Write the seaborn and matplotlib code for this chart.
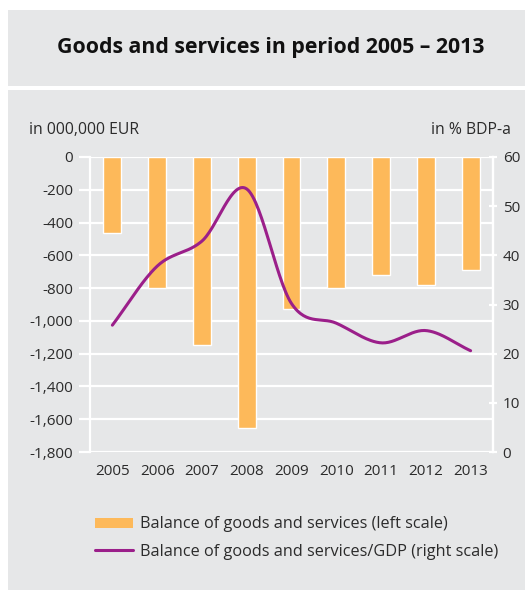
import numpy as np
import pandas as pd
import matplotlib
matplotlib.use("Agg")
import matplotlib.pyplot as plt
from matplotlib.patches import Rectangle, Patch
from matplotlib.lines import Line2D
import seaborn as sns

# Data
years = ["2005", "2006", "2007", "2008", "2009", "2010", "2011", "2012", "2013"]
balance = [-465, -800, -1150, -1655, -925, -800, -718, -780, -688]       # million EUR
balance_gdp = [25.8, 37.8, 42.9, 53.5, 30.2, 26.2, 22.2, 24.7, 20.6]     # % of GDP
left_ticks = [0, -200, -400, -600, -800, -1000, -1200, -1400, -1600, -1800]
right_ticks = [0, 10, 20, 30, 40, 50, 60]

BG = "#E6E7E8"
BAR = "#FDB95A"
LINE = "#9B1F8A"
TXT = "#2B2B2B"

sns.set_style("white")
plt.rcParams["font.family"] = ["Open Sans", "DejaVu Sans"]

W, H = 525, 590
fig = plt.figure(figsize=(W / 100, H / 100), dpi=100)
fig.patch.set_facecolor("white")


def fx(px):
    return px / W


def fy(py):
    return 1 - py / H


# Grey panels: title band and chart band
fig.add_artist(Rectangle((fx(8), fy(86)), fx(W - 8), 76 / H, transform=fig.transFigure,
                         facecolor=BG, edgecolor="none", zorder=0))
fig.add_artist(Rectangle((fx(8), 0), fx(W - 8), fy(90), transform=fig.transFigure,
                         facecolor=BG, edgecolor="none", zorder=0))

fig.text(fx(271), fy(48), "Goods and services in period 2005 – 2013", ha="center", va="center",
         fontsize=15.3, fontweight="bold", color="#111111")

ax = fig.add_axes([fx(90), fy(452), fx(493 - 90), (452 - 157) / H])
ax.set_facecolor(BG)

df = pd.DataFrame({"year": years, "balance": balance, "gdp": balance_gdp})

# Horizontal white grid
ax.set_ylim(-1800, 0)
ax.set_yticks(left_ticks)
ax.set_yticklabels([f"{v:,}" for v in left_ticks])
ax.grid(axis="y", color="white", linewidth=1.6, zorder=0)
ax.set_axisbelow(True)

sns.barplot(data=df, x="year", y="balance", color=BAR, width=0.4, saturation=1, ax=ax, zorder=2)
ax.set_xlim(-0.5, len(years) - 0.5)
ax.set_xlabel("")
ax.set_ylabel("")

for side in ["top", "bottom"]:
    ax.spines[side].set_visible(False)
for side in ["left", "right"]:
    ax.spines[side].set_color("white")
    ax.spines[side].set_linewidth(1.6)

ax.tick_params(axis="y", which="both", left=True, length=8, width=1.6, color="white",
               labelsize=11, labelcolor=TXT, pad=4)
ax.tick_params(axis="x", bottom=False, labelsize=11, labelcolor=TXT, pad=5)

# Right axis: share of GDP
ax2 = ax.twinx()
ax2.set_ylim(0, 60)
ax2.set_yticks(right_ticks)
for side in ["top", "bottom", "left"]:
    ax2.spines[side].set_visible(False)
ax2.spines["right"].set_color("white")
ax2.spines["right"].set_linewidth(1.6)
ax2.tick_params(axis="y", right=True, length=6, width=1.6, color="white", direction="inout",
                labelsize=11, labelcolor=TXT, pad=4)
ax2.grid(False)


def catmull_rom(xs, ys, n=30):
    xs = np.asarray(xs, float)
    ys = np.asarray(ys, float)
    px = np.concatenate([[2 * xs[0] - xs[1]], xs, [2 * xs[-1] - xs[-2]]])
    py = np.concatenate([[2 * ys[0] - ys[1]], ys, [2 * ys[-1] - ys[-2]]])
    ox, oy = [], []
    t = np.linspace(0, 1, n, endpoint=False)
    for i in range(1, len(px) - 2):
        for arr, out in ((px, ox), (py, oy)):
            p0, p1, p2, p3 = arr[i - 1], arr[i], arr[i + 1], arr[i + 2]
            out.extend(0.5 * ((2 * p1) + (-p0 + p2) * t + (2 * p0 - 5 * p1 + 4 * p2 - p3) * t ** 2
                              + (-p0 + 3 * p1 - 3 * p2 + p3) * t ** 3))
    ox.append(xs[-1])
    oy.append(ys[-1])
    return np.array(ox), np.array(oy)


sx, sy = catmull_rom(np.arange(len(years)), balance_gdp)
sns.lineplot(x=sx, y=sy, ax=ax2, color=LINE, linewidth=2.2, sort=False, estimator=None)

# Axis unit captions
fig.text(fx(29), fy(130), "in 000,000 EUR", ha="left", va="center", fontsize=11.3, color=TXT)
fig.text(fx(511), fy(130), "in % BDP-a", ha="right", va="center", fontsize=11.3, color=TXT)

# Legend
handles = [Patch(facecolor=BAR, edgecolor="none"),
           Line2D([0], [0], color=LINE, linewidth=2.2)]
labels = ["Balance of goods and services (left scale)",
          "Balance of goods and services/GDP (right scale)"]
fig.legend(handles, labels, loc="upper left", bbox_to_anchor=(fx(88), fy(510)),
           frameon=False, fontsize=11.7, labelcolor=TXT, handlelength=2.35,
           handleheight=0.62, handletextpad=0.42, labelspacing=0.68, borderaxespad=0)

fig.savefig("out.png", dpi=100, facecolor="white")
